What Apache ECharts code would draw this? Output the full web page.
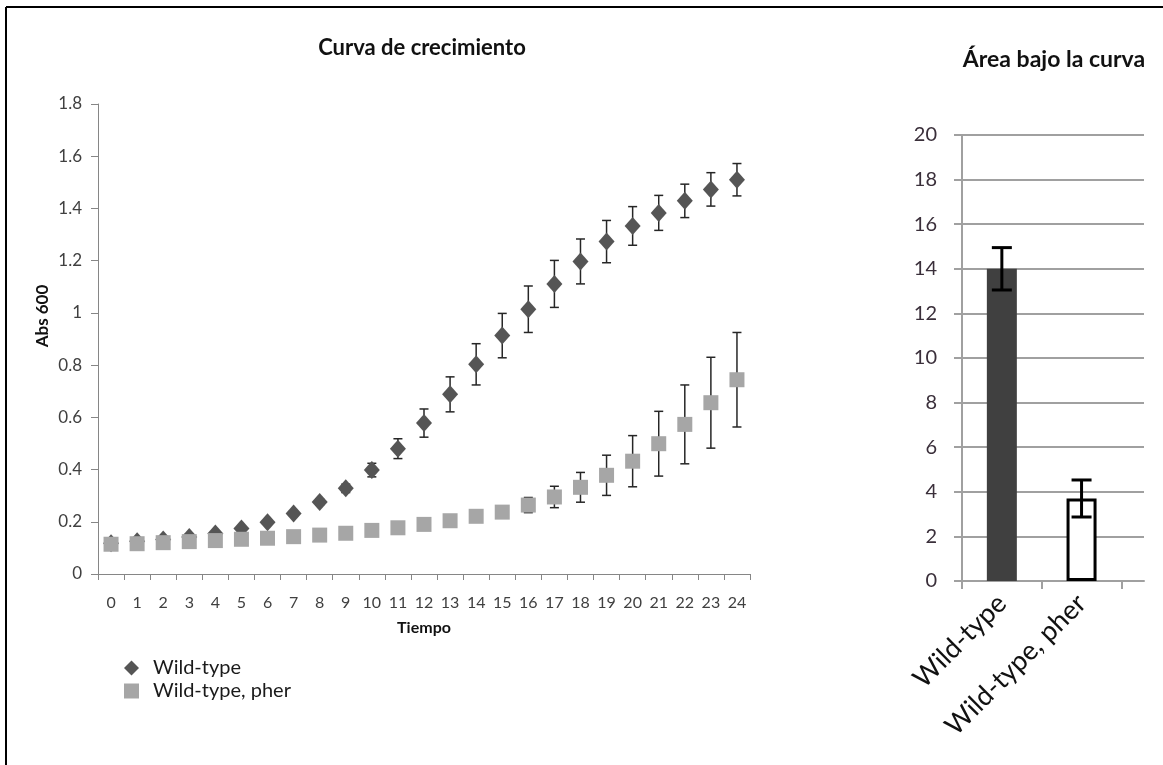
<!DOCTYPE html>
<html>
<head>
<meta charset="utf-8">
<script src="https://cdn.jsdelivr.net/npm/echarts@6/dist/echarts.min.js"></script>
<style>
  html, body { margin: 0; padding: 0; background: #fff; }
  #chart { width: 1163px; height: 765px; }
</style>
</head>
<body>
<div id="chart"></div>
<script>
// growth curve, hours 0..24
const hours = ["0","1","2","3","4","5","6","7","8","9","10","11","12","13","14","15","16","17","18","19","20","21","22","23","24"];
const wildType = [0.118, 0.125, 0.132, 0.142, 0.155, 0.174, 0.198, 0.232, 0.276, 0.328, 0.398, 0.48, 0.578, 0.688, 0.803, 0.913, 1.014, 1.111, 1.197, 1.273, 1.333, 1.383, 1.429, 1.473, 1.51];
const wildTypeErr = [0.01, 0.01, 0.01, 0.01, 0.008, 0.008, 0.008, 0.01, 0.012, 0.016, 0.026, 0.038, 0.054, 0.067, 0.079, 0.085, 0.089, 0.09, 0.086, 0.081, 0.074, 0.067, 0.064, 0.064, 0.062];
const pher = [0.114, 0.116, 0.12, 0.124, 0.128, 0.133, 0.137, 0.143, 0.149, 0.156, 0.167, 0.177, 0.19, 0.204, 0.221, 0.237, 0.264, 0.295, 0.332, 0.378, 0.432, 0.499, 0.573, 0.656, 0.744];
const pherErr = [0.005, 0.005, 0.005, 0.005, 0.005, 0.005, 0.005, 0.005, 0.005, 0.005, 0.005, 0.005, 0.005, 0.006, 0.006, 0.01, 0.029, 0.041, 0.057, 0.077, 0.098, 0.124, 0.151, 0.174, 0.181];

// area under the curve
const aucCategories = ["Wild-type", "Wild-type, pher"];
const aucValues = [14.0, 3.7];
const aucErr = [0.95, 0.83];

const FONT = "Lato, 'Open Sans', sans-serif";
const barStyles = [
  { color: "#404040", borderColor: "#404040", borderWidth: 0 },
  { color: "#ffffff", borderColor: "#000000", borderWidth: 3 }
];

function errorBars(capHalf, lineWidth, color) {
  return function (params, api) {
    const x = api.value(0);
    const v = api.value(1);
    const e = api.value(2);
    const hi = api.coord([x, v + e]);
    const lo = api.coord([x, v - e]);
    const style = { stroke: color, lineWidth: lineWidth };
    return {
      type: "group",
      children: [
        { type: "line", shape: { x1: hi[0], y1: hi[1], x2: lo[0], y2: lo[1] }, style: style },
        { type: "line", shape: { x1: hi[0] - capHalf, y1: hi[1], x2: hi[0] + capHalf, y2: hi[1] }, style: style },
        { type: "line", shape: { x1: lo[0] - capHalf, y1: lo[1], x2: lo[0] + capHalf, y2: lo[1] }, style: style }
      ]
    };
  };
}

const chart = echarts.init(document.getElementById("chart"));

const option = {
  animation: false,
  backgroundColor: "#fff",
  textStyle: { fontFamily: FONT },
  title: [
    {
      text: "Curva de crecimiento",
      left: 417, top: 32, textAlign: "center",
      textStyle: { fontSize: 22, fontWeight: "bold", color: "#111", fontFamily: FONT }
    },
    {
      text: "Área bajo la curva",
      left: 1049, top: 43, textAlign: "center",
      textStyle: { fontSize: 23, fontWeight: "bold", color: "#111", fontFamily: FONT }
    }
  ],
  legend: {
    orient: "vertical",
    left: 119, top: 653,
    itemWidth: 15, itemHeight: 15, itemGap: 3,
    data: ["Wild-type", "Wild-type, pher"],
    textStyle: { fontSize: 20, color: "#1a1a1a", fontFamily: FONT, padding: [0, 0, 0, 9] }
  },
  grid: [
    { left: 98, top: 104, width: 652, height: 470 },
    { left: 962, top: 135, right: 19, height: 446 },
    { left: 962, top: 135, width: 159.4, height: 446 }
  ],
  xAxis: [
    {
      gridIndex: 0, type: "category", data: hours, boundaryGap: true,
      axisLine: { lineStyle: { color: "#868686", width: 1 } },
      axisTick: { show: true, length: 6, lineStyle: { color: "#868686" } },
      axisLabel: { fontSize: 16, color: "#404040", margin: 21, interval: 0 },
      name: "Tiempo", nameLocation: "middle", nameGap: 46,
      nameTextStyle: { fontSize: 16, fontWeight: "bold", color: "#111" }
    },
    {
      gridIndex: 1, type: "value", min: 0, max: 1,
      axisLine: { show: true, onZero: false, lineStyle: { color: "#a0a0a0", width: 2 } },
      axisTick: { show: false }, axisLabel: { show: false }, splitLine: { show: false }
    },
    {
      gridIndex: 2, type: "category", data: aucCategories,
      axisLine: { show: false },
      axisTick: { show: true, length: 8, lineStyle: { color: "#a0a0a0", width: 2 } },
      axisLabel: { rotate: 45, fontSize: 27, color: "#111", margin: 18, interval: 0 }
    }
  ],
  yAxis: [
    {
      gridIndex: 0, type: "value", min: 0, max: 1.8, interval: 0.2,
      axisLine: { show: true, lineStyle: { color: "#868686", width: 1 } },
      axisTick: { show: true, length: 7, lineStyle: { color: "#868686" } },
      axisLabel: { fontSize: 17, color: "#404040", margin: 16 },
      splitLine: { show: false }
    },
    {
      gridIndex: 1, type: "value", min: 0, max: 20, interval: 2,
      axisLine: { show: true, lineStyle: { color: "#a0a0a0", width: 2 } },
      axisTick: { show: true, length: 8, lineStyle: { color: "#a0a0a0", width: 2 } },
      axisLabel: { fontSize: 20, color: "#3a2f3a", margin: 25 },
      splitLine: { show: true, lineStyle: { color: "#a0a0a0", width: 2 } }
    },
    {
      gridIndex: 2, type: "value", min: 0, max: 20, interval: 2, show: false
    }
  ],
  series: [
    {
      name: "Wild-type", type: "scatter", xAxisIndex: 0, yAxisIndex: 0,
      symbol: "diamond", symbolSize: [16, 18],
      itemStyle: { color: "#555555", opacity: 1 },
      data: wildType, z: 3
    },
    {
      name: "Wild-type, pher", type: "scatter", xAxisIndex: 0, yAxisIndex: 0,
      symbol: "rect", symbolSize: 15,
      itemStyle: { color: "#a6a6a6", opacity: 1 },
      data: pher, z: 4
    },
    {
      type: "custom", xAxisIndex: 0, yAxisIndex: 0, z: 1, silent: true,
      renderItem: errorBars(4.5, 1.5, "#262626"),
      encode: { x: 0, y: 1 },
      data: wildType.map((v, i) => [i, v, wildTypeErr[i]])
    },
    {
      type: "custom", xAxisIndex: 0, yAxisIndex: 0, z: 1, silent: true,
      renderItem: errorBars(4.5, 1.5, "#262626"),
      encode: { x: 0, y: 1 },
      data: pher.map((v, i) => [i, v, pherErr[i]])
    },
    {
      type: "bar", xAxisIndex: 2, yAxisIndex: 2, barWidth: 30,
      data: aucValues.map((v, i) => ({ value: v, itemStyle: barStyles[i] })),
      z: 3
    },
    {
      type: "custom", xAxisIndex: 2, yAxisIndex: 2, z: 5, silent: true,
      renderItem: errorBars(10, 3, "#000"),
      encode: { x: 0, y: 1 },
      data: aucValues.map((v, i) => [i, v, aucErr[i]])
    }
  ],
  graphic: [
    { type: "line", shape: { x1: 6, y1: 7, x2: 1163, y2: 7 }, style: { stroke: "#000", lineWidth: 2 } },
    { type: "line", shape: { x1: 6, y1: 7, x2: 6, y2: 765 }, style: { stroke: "#000", lineWidth: 2 } },
    {
      type: "text", x: 43, y: 316, rotation: Math.PI / 2,
      style: { text: "Abs 600", fontSize: 17, fontWeight: "bold", fill: "#111", fontFamily: FONT, align: "center", verticalAlign: "middle" }
    }
  ]
};

chart.setOption(option);
</script>
</body>
</html>
